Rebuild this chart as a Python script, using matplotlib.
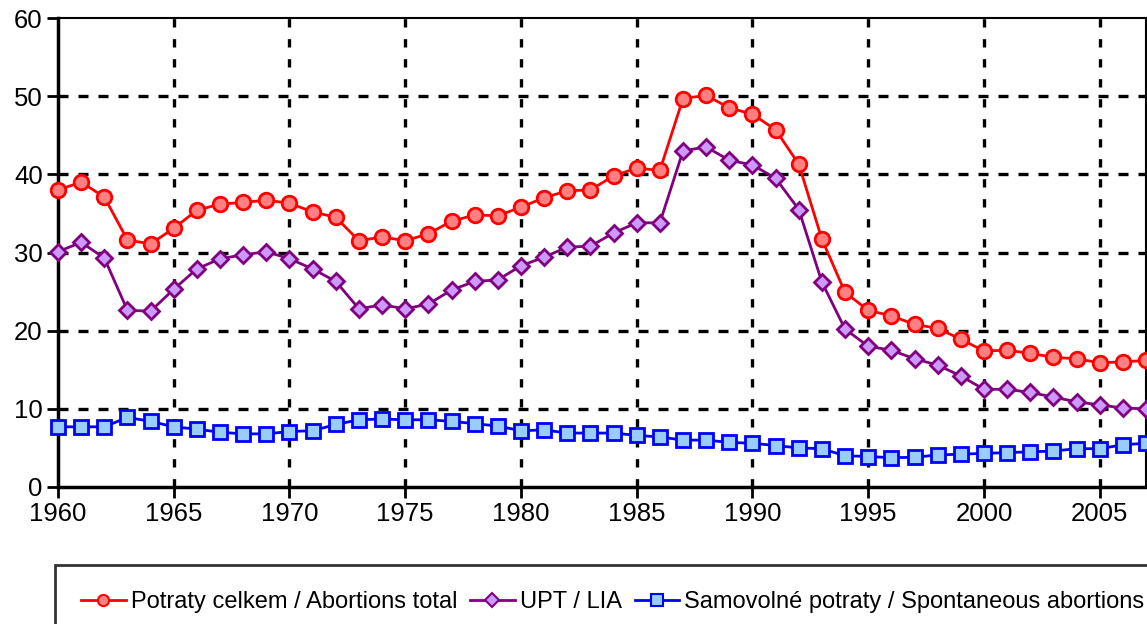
import matplotlib
matplotlib.use('Agg')
import matplotlib.pyplot as plt
from matplotlib.lines import Line2D

plt.rcParams['font.family'] = ['Liberation Sans', 'DejaVu Sans']

# Roky
years = list(range(1960, 2008))

# Potraty celkem / Abortions total
total = [38.0, 39.0, 37.1, 31.6, 31.1, 33.1, 35.4, 36.2, 36.4, 36.7,
         36.3, 35.2, 34.5, 31.5, 32.0, 31.5, 32.4, 34.0, 34.8, 34.7,
         35.8, 37.0, 37.9, 38.0, 39.8, 40.8, 40.5, 49.7, 50.1, 48.5,
         47.7, 45.7, 41.3, 31.7, 24.9, 22.6, 21.9, 20.8, 20.3, 18.9,
         17.4, 17.5, 17.1, 16.6, 16.4, 15.9, 16.0, 16.2]

# UPT / LIA
upt = [30.1, 31.3, 29.3, 22.6, 22.5, 25.3, 27.9, 29.2, 29.7, 30.1,
       29.2, 27.9, 26.3, 22.8, 23.3, 22.8, 23.4, 25.2, 26.3, 26.5,
       28.3, 29.4, 30.7, 30.8, 32.5, 33.8, 33.8, 43.0, 43.5, 41.8,
       41.2, 39.5, 35.5, 26.2, 20.2, 18.0, 17.5, 16.4, 15.6, 14.2,
       12.5, 12.5, 12.1, 11.5, 10.9, 10.5, 10.1, 10.0]

# Samovolné potraty / Spontaneous abortions
spont = [7.7, 7.7, 7.7, 8.9, 8.4, 7.7, 7.4, 7.0, 6.8, 6.8,
         7.1, 7.2, 8.0, 8.6, 8.7, 8.6, 8.6, 8.4, 8.1, 7.8,
         7.2, 7.3, 6.9, 6.9, 6.9, 6.6, 6.4, 6.0, 6.0, 5.7,
         5.6, 5.3, 5.0, 4.9, 4.0, 3.9, 3.75, 3.8, 4.1, 4.2,
         4.3, 4.4, 4.5, 4.6, 4.9, 4.9, 5.4, 5.6]

labels = ['Potraty celkem / Abortions total', 'UPT / LIA',
          'Samovolné potraty / Spontaneous abortions']

fig = plt.figure(figsize=(11.47, 6.24), dpi=100)
ax = fig.add_axes([58 / 1147, 1 - 487 / 624, 1088 / 1147, 469 / 624])

ax.plot(years, total, color='red', lw=2, marker='o', ms=10.5,
        mfc='#ff8080', mec='red', mew=2, label=labels[0], zorder=3, clip_on=False)
ax.plot(years, upt, color='#800080', lw=2, marker='D', ms=8.5,
        mfc='#cc99ff', mec='#800080', mew=2, label=labels[1], zorder=3, clip_on=False)
ax.plot(years, spont, color='blue', lw=2, marker='s', ms=10,
        mfc='#99ccff', mec='blue', mew=2, label=labels[2], zorder=3, clip_on=False)

ax.set_xlim(1960, 2007)
ax.set_ylim(0, 60)
ax.set_xticks(range(1960, 2008, 5))
ax.set_yticks(range(0, 61, 10))

# Mřížka
for x in range(1965, 2007, 5):
    ax.axvline(x, color='black', lw=2.4, ls=(0, (2.5, 3.5)), zorder=1)
for y in range(10, 60, 10):
    ax.axhline(y, color='black', lw=2.4, ls=(0, (3, 3)), zorder=1)

for side in ['left', 'bottom']:
    ax.spines[side].set_linewidth(2.5)
for side in ['top', 'right']:
    ax.spines[side].set_linewidth(1.5)

ax.tick_params(axis='both', direction='out', length=8, width=2,
               labelsize=18.5, pad=3)

handles = [
    Line2D([], [], color='red', lw=2, marker='o', ms=8, mfc='#ff8080', mec='red', mew=1.5),
    Line2D([], [], color='#800080', lw=2, marker='D', ms=7, mfc='#cc99ff', mec='#800080', mew=1.5),
    Line2D([], [], color='blue', lw=2, marker='s', ms=8, mfc='#99ccff', mec='blue', mew=1.5),
]
leg = fig.legend(handles, labels, loc='upper left', ncol=3,
                 bbox_to_anchor=(55 / 1147, 1 - 565 / 624),
                 frameon=True, fancybox=False, edgecolor='black',
                 fontsize=17, handlelength=1.9, handletextpad=0.2,
                 columnspacing=0.55, borderpad=1.1, borderaxespad=0)
leg.get_frame().set_linewidth(2)

fig.savefig('out.png', dpi=100)
